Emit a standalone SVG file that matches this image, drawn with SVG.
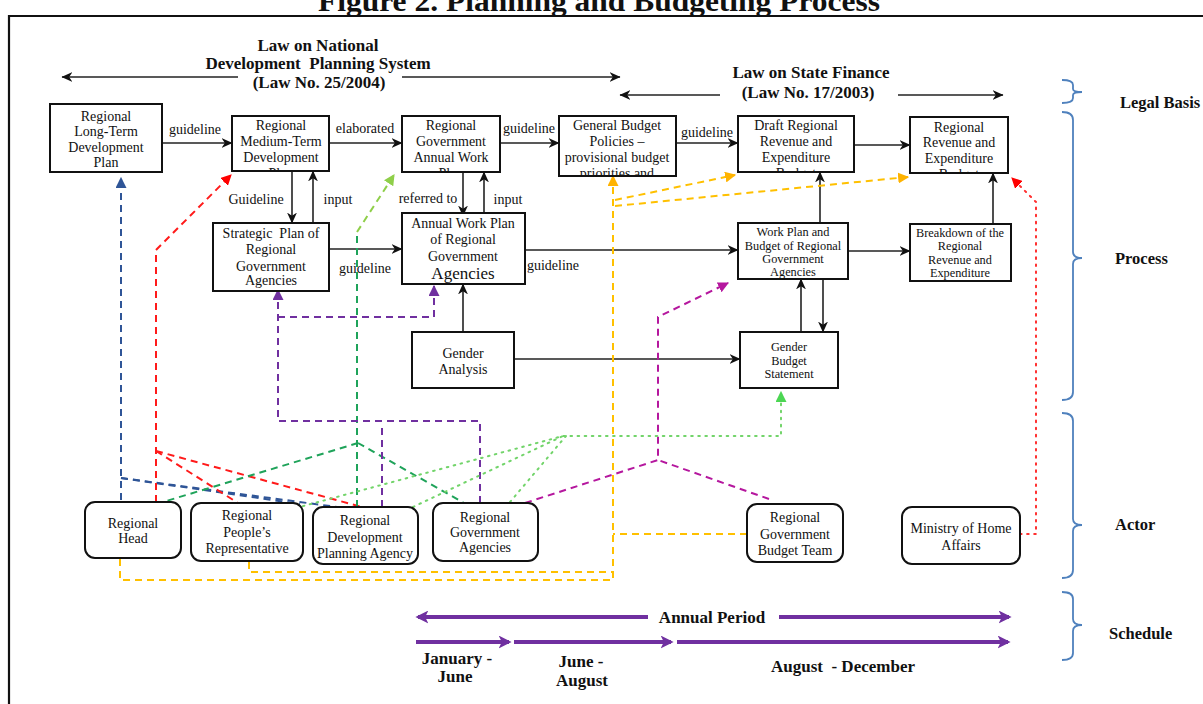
<svg xmlns="http://www.w3.org/2000/svg" width="1203" height="704" viewBox="0 0 1203 704">
<defs>
<style>
text{font-family:"Liberation Serif","Times New Roman",serif;fill:#111}
.b{font-weight:bold}
.t14{font-size:14px}
.t12{font-size:12.3px}
.lg{font-size:17px;font-weight:bold}
.box{fill:#fff;stroke:#111;stroke-width:2}
.act{fill:#fff;stroke:#111;stroke-width:2}
.k{fill:none;stroke:#222;stroke-width:1.6;marker-end:url(#ak)}
.d{fill:none;stroke-width:2;stroke-dasharray:7 5}
.o{fill:none;stroke-width:2;stroke-dasharray:1.6 5.5;stroke-linecap:round}
.brace{fill:none;stroke:#4f81bd;stroke-width:1.8}
.sch{fill:none;stroke:#7030a0;stroke-width:4;marker-end:url(#ap)}
</style>
<marker id="ak" viewBox="0 0 10 10" refX="9.5" refY="5" markerWidth="11" markerHeight="11" markerUnits="userSpaceOnUse" orient="auto"><path d="M0,0.5 L10,5 L0,9.5 L3,5z" fill="#111"/></marker>
<marker id="ap" viewBox="0 0 10 10" refX="8" refY="5" markerWidth="13" markerHeight="13" markerUnits="userSpaceOnUse" orient="auto"><path d="M0,0 L10,5 L0,10 L2.5,5z" fill="#7030a0"/></marker>
<marker id="mBlue" viewBox="0 0 10 10" refX="9" refY="5" markerWidth="11" markerHeight="11" markerUnits="userSpaceOnUse" orient="auto"><path d="M0,0 L10,5 L0,10z" fill="#2f5597"/></marker>
<marker id="mRed" viewBox="0 0 10 10" refX="9" refY="5" markerWidth="11" markerHeight="11" markerUnits="userSpaceOnUse" orient="auto"><path d="M0,0 L10,5 L0,10z" fill="#ff0000"/></marker>
<marker id="mLg" viewBox="0 0 10 10" refX="9" refY="5" markerWidth="11" markerHeight="11" markerUnits="userSpaceOnUse" orient="auto"><path d="M0,0 L10,5 L0,10z" fill="#8fcf4a"/></marker>
<marker id="mPur" viewBox="0 0 10 10" refX="9" refY="5" markerWidth="11" markerHeight="11" markerUnits="userSpaceOnUse" orient="auto"><path d="M0,0 L10,5 L0,10z" fill="#7030a0"/></marker>
<marker id="mYel" viewBox="0 0 10 10" refX="9" refY="5" markerWidth="11" markerHeight="11" markerUnits="userSpaceOnUse" orient="auto"><path d="M0,0 L10,5 L0,10z" fill="#ffb300"/></marker>
<marker id="mMag" viewBox="0 0 10 10" refX="9" refY="5" markerWidth="11" markerHeight="11" markerUnits="userSpaceOnUse" orient="auto"><path d="M0,0 L10,5 L0,10z" fill="#b5179e"/></marker>
<marker id="mGr" viewBox="0 0 10 10" refX="9" refY="5" markerWidth="11" markerHeight="11" markerUnits="userSpaceOnUse" orient="auto"><path d="M0,0 L10,5 L0,10z" fill="#4cd653"/></marker>
<clipPath id="c2"><rect x="232" y="116" width="97" height="55"/></clipPath>
<clipPath id="c3"><rect x="402" y="116" width="98" height="56"/></clipPath>
<clipPath id="c4"><rect x="559" y="116" width="117" height="60"/></clipPath>
<clipPath id="c5"><rect x="738" y="116" width="116" height="56"/></clipPath>
<clipPath id="c6"><rect x="910" y="117" width="98" height="56"/></clipPath>
</defs>

<rect x="0" y="0" width="1203" height="704" fill="#fff"/>

<g id="title">
<text x="599" y="11" class="b" style="font-size:30px" text-anchor="middle" textLength="562" lengthAdjust="spacingAndGlyphs">Figure 2. Planning and Budgeting Process</text>
<path d="M9,704 V16 H1203" fill="none" stroke="#111" stroke-width="2.2"/>
</g>

<g id="legal-basis">
<text x="318" y="51" class="lg" text-anchor="middle">Law on National</text>
<text x="318" y="69" class="lg" text-anchor="middle" xml:space="preserve">Development  Planning System</text>
<text x="319" y="88" class="lg" text-anchor="middle">(Law No. 25/2004)</text>
<text x="811" y="78" class="lg" text-anchor="middle">Law on State Finance</text>
<text x="808" y="98" class="lg" text-anchor="middle">(Law No. 17/2003)</text>
<path class="k" d="M238,77 H62"/>
<path class="k" d="M402,77 H620"/>
<path class="k" d="M720,95 H620"/>
<path class="k" d="M898,95 H1003"/>
</g>

<g id="side-labels">
<path class="brace" d="M1062,80 Q1073,80 1073,85 V89 Q1073,92 1082,92 Q1073,92 1073,95 V98 Q1073,103 1062,103"/>
<path class="brace" d="M1062,112 Q1073,112 1073,120 V252 Q1073,258 1082,258 Q1073,258 1073,264 V392 Q1073,400 1062,400"/>
<path class="brace" d="M1062,413 Q1073,413 1073,421 V519 Q1073,525 1082,525 Q1073,525 1073,531 V570 Q1073,578 1062,578"/>
<path class="brace" d="M1062,592 Q1073,592 1073,599 V619 Q1073,625 1082,625 Q1073,625 1073,631 V653 Q1073,660 1062,660"/>
<text x="1120" y="108" class="b" style="font-size:16.5px">Legal Basis</text>
<text x="1115" y="264" class="b" style="font-size:16.5px">Process</text>
<text x="1115" y="530" class="b" style="font-size:16.5px">Actor</text>
<text x="1109" y="639" class="b" style="font-size:16.5px">Schedule</text>
</g>

<g id="connectors">
<path class="k" d="M162,143 H232"/>
<path class="k" d="M330,143 H402"/>
<path class="k" d="M500,143 H559"/>
<path class="k" d="M676,143 H738"/>
<path class="k" d="M854,145 H910"/>
<path class="k" d="M292,171 V223"/>
<path class="k" d="M313,223 V171"/>
<path class="k" d="M463,172 V216"/>
<path class="k" d="M484,216 V172"/>
<path class="k" d="M329,249 H402"/>
<path class="k" d="M525,250 H738"/>
<path class="k" d="M820,223 V172"/>
<path class="k" d="M849,251 H910"/>
<path class="k" d="M993,224 V173"/>
<path class="k" d="M463,332 V284"/>
<path class="k" d="M514,359 H740"/>
<path class="k" d="M801,332 V279"/>
<path class="k" d="M823,279 V332"/>
<g class="t14">
<text x="195" y="134" text-anchor="middle">guideline</text>
<text x="365" y="133" text-anchor="middle">elaborated</text>
<text x="529" y="133" text-anchor="middle">guideline</text>
<text x="707" y="137" text-anchor="middle">guideline</text>
<text x="256" y="204" text-anchor="middle">Guideline</text>
<text x="338" y="204" text-anchor="middle">input</text>
<text x="428" y="203" text-anchor="middle">referred to</text>
<text x="508" y="204" text-anchor="middle">input</text>
<text x="365" y="273" text-anchor="middle">guideline</text>
<text x="553" y="270" text-anchor="middle">guideline</text>
</g>
<path class="d" stroke="#2f5597" d="M121,500 V178" marker-end="url(#mBlue)"/>
<path class="d" stroke="#2f5597" d="M121,478 L300,504"/>
<path class="d" stroke="#2f5597" d="M121,478 L337,507"/>
<path class="d" stroke="#ff1a1a" d="M156,502 V250 L231,175" marker-end="url(#mRed)"/>
<path class="d" stroke="#ff1a1a" d="M156,451 L238,503"/>
<path class="d" stroke="#ff1a1a" d="M156,451 L362,507"/>
<path class="d" stroke="#1fa35a" d="M357,507 V232"/>
<path class="d" stroke="#8fcf4a" d="M357,232 L394,175" marker-end="url(#mLg)"/>
<path class="d" stroke="#1fa35a" d="M358,443 L163,502"/>
<path class="d" stroke="#1fa35a" d="M358,443 L464,503"/>
<path class="d" stroke="#7030a0" d="M480,503 V421 H278 V290" marker-end="url(#mPur)"/>
<path class="d" stroke="#7030a0" d="M278,317 H434 V286" marker-end="url(#mPur)"/>
<path class="d" stroke="#7030a0" d="M382,507 V424"/>
<path class="d" stroke="#ffc000" d="M120,559 V580 H613 V176" marker-end="url(#mYel)"/>
<path class="d" stroke="#ffc000" d="M249,562 V572 H613"/>
<path class="d" stroke="#ffc000" d="M747,534 H613"/>
<path class="d" stroke="#ffc000" d="M615,200 L735,175" marker-end="url(#mYel)"/>
<path class="d" stroke="#ffc000" d="M615,206 L908,177" marker-end="url(#mYel)"/>
<path class="d" stroke="#b5179e" d="M525,503 L658,460 V317 L728,283" marker-end="url(#mMag)"/>
<path class="d" stroke="#b5179e" d="M769,499 L658,460"/>
<path class="o" stroke="#72d46a" d="M296,508 L563,436 H781 V392" marker-end="url(#mGr)"/>
<path class="o" stroke="#72d46a" d="M413,507 L563,436"/>
<path class="o" stroke="#72d46a" d="M510,502 L566,436"/>
<path class="o" stroke="#ff3030" d="M1020,534 H1036 V202 L1012,178" marker-end="url(#mRed)"/>
</g>

<g id="n-rltdp">
<rect class="box" x="50" y="104" width="112" height="68"/>
<g class="t14" text-anchor="middle"><text x="106" y="121">Regional</text><text x="106" y="136">Long-Term</text><text x="106" y="152">Development</text><text x="106" y="167">Plan</text></g>
</g>
<g id="n-rmtdp">
<rect class="box" x="232" y="116" width="97" height="55"/>
<g class="t14" text-anchor="middle" clip-path="url(#c2)"><text x="281" y="130">Regional</text><text x="281" y="146">Medium-Term</text><text x="281" y="162">Development</text><text x="281" y="178">Plan</text></g>
</g>
<g id="n-rgawp">
<rect class="box" x="402" y="116" width="98" height="56"/>
<g class="t14" text-anchor="middle" clip-path="url(#c3)"><text x="451" y="130">Regional</text><text x="451" y="146">Government</text><text x="451" y="162">Annual Work</text><text x="451" y="178">Plan</text></g>
</g>
<g id="n-gbp">
<rect class="box" x="559" y="116" width="117" height="60"/>
<g class="t14" text-anchor="middle" clip-path="url(#c4)"><text x="617" y="130">General Budget</text><text x="617" y="146">Policies –</text><text x="617" y="162">provisional budget</text><text x="617" y="178">priorities and</text></g>
</g>
<g id="n-draft">
<rect class="box" x="738" y="116" width="116" height="56"/>
<g class="t14" text-anchor="middle" clip-path="url(#c5)"><text x="796" y="130">Draft Regional</text><text x="796" y="146">Revenue and</text><text x="796" y="162">Expenditure</text><text x="796" y="178">Budget</text></g>
</g>
<g id="n-rre">
<rect class="box" x="910" y="117" width="98" height="56"/>
<g class="t14" text-anchor="middle" clip-path="url(#c6)"><text x="959" y="132">Regional</text><text x="959" y="147">Revenue and</text><text x="959" y="163">Expenditure</text><text x="959" y="179">Budget</text></g>
</g>
<g id="n-strategic">
<rect class="box" x="213" y="223" width="116" height="68"/>
<g class="t14" text-anchor="middle"><text x="271" y="238" xml:space="preserve">Strategic  Plan of</text><text x="271" y="254">Regional</text><text x="271" y="271">Government</text><text x="271" y="285">Agencies</text></g>
</g>
<g id="n-awp">
<rect class="box" x="402" y="213" width="123" height="71"/>
<g class="t14" text-anchor="middle"><text x="463" y="228">Annual Work Plan</text><text x="463" y="244">of Regional</text><text x="463" y="261">Government</text><text x="463" y="279" style="font-size:17px">Agencies</text></g>
</g>
<g id="n-wp">
<rect class="box" x="738" y="223" width="110" height="56"/>
<g class="t12" text-anchor="middle"><text x="793" y="236">Work Plan and</text><text x="793" y="249.5">Budget of Regional</text><text x="793" y="263">Government</text><text x="793" y="276">Agencies</text></g>
</g>
<g id="n-breakdown">
<rect class="box" x="910" y="224" width="101" height="57"/>
<g class="t12" text-anchor="middle"><text x="960" y="237">Breakdown of the</text><text x="960" y="250">Regional</text><text x="960" y="264">Revenue and</text><text x="960" y="277">Expenditure</text></g>
</g>
<g id="n-ga">
<rect class="box" x="412" y="332" width="102" height="56"/>
<g class="t14" text-anchor="middle"><text x="463" y="358">Gender</text><text x="463" y="374">Analysis</text></g>
</g>
<g id="n-gbs">
<rect class="box" x="740" y="332" width="98" height="56"/>
<g class="t12" text-anchor="middle"><text x="789" y="351">Gender</text><text x="789" y="365">Budget</text><text x="789" y="378">Statement</text></g>
</g>

<g id="a-head">
<rect class="act" x="85" y="502" width="96" height="56" rx="10"/>
<g class="t14" text-anchor="middle"><text x="133" y="528">Regional</text><text x="133" y="543">Head</text></g>
</g>
<g id="a-rpr">
<rect class="act" x="191" y="503" width="112" height="58" rx="10"/>
<g class="t14" text-anchor="middle"><text x="247" y="520">Regional</text><text x="247" y="537">People’s</text><text x="247" y="553">Representative</text></g>
</g>
<g id="a-rdpa">
<rect class="act" x="313" y="507" width="105" height="57" rx="10"/>
<g class="t14" text-anchor="middle"><text x="365" y="525">Regional</text><text x="365" y="542">Development</text><text x="365" y="558">Planning Agency</text></g>
</g>
<g id="a-rga">
<rect class="act" x="433" y="503" width="105" height="58" rx="10"/>
<g class="t14" text-anchor="middle"><text x="485" y="522">Regional</text><text x="485" y="537">Government</text><text x="485" y="552">Agencies</text></g>
</g>
<g id="a-rgbt">
<rect class="act" x="747" y="504" width="96" height="58" rx="10"/>
<g class="t14" text-anchor="middle"><text x="795" y="522">Regional</text><text x="795" y="539">Government</text><text x="795" y="555">Budget Team</text></g>
</g>
<g id="a-moha">
<rect class="act" x="902" y="507" width="118" height="57" rx="10"/>
<g class="t14" text-anchor="middle"><text x="961" y="533">Ministry of Home</text><text x="961" y="550">Affairs</text></g>
</g>

<g id="schedule">
<path class="sch" d="M648,617 H418"/>
<path class="sch" d="M779,617 H1009"/>
<text x="712" y="623" class="lg" text-anchor="middle">Annual Period</text>
<path class="sch" d="M416,642 H509"/>
<path class="sch" d="M514,642 H671"/>
<path class="sch" d="M677,642 H1008"/>
<text x="457" y="664" class="lg" text-anchor="middle">January -</text>
<text x="455" y="682" class="lg" text-anchor="middle">June</text>
<text x="581" y="667" class="lg" text-anchor="middle">June -</text>
<text x="582" y="686" class="lg" text-anchor="middle">August</text>
<text x="843" y="672" class="lg" text-anchor="middle" xml:space="preserve">August  - December</text>
</g>
</svg>
